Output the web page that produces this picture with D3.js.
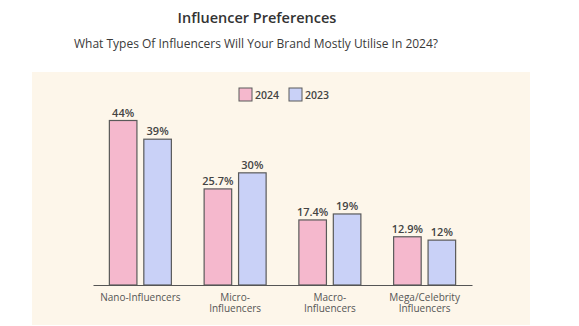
<!DOCTYPE html>
<html><head><meta charset="utf-8">
<script src="https://cdn.jsdelivr.net/npm/d3@7/dist/d3.min.js"></script>
<style>body{margin:0;background:#fff;}svg{display:block;}</style>
</head><body>
<script>
const categories = [["Nano-Influencers"], ["Micro-", "Influencers"], ["Macro-", "Influencers"], ["Mega/Celebrity", "Influencers"]];
const seriesNames = ["2024", "2023"];
const values2024 = [44, 25.7, 17.4, 12.9];
const values2023 = [39, 30, 19, 12];
const labels2024 = ["44%", "25.7%", "17.4%", "12.9%"];
const labels2023 = ["39%", "30%", "19%", "12%"];
const colors = ["#f5b8cd", "#c9d1f7"];

const W = 579, H = 326;
const font = "'Open Sans', 'Noto Sans', sans-serif";
const svg = d3.select("body").append("svg").attr("width", W).attr("height", H);

svg.append("rect").attr("x", 32).attr("y", 72).attr("width", 498).attr("height", 253).attr("fill", "#fdf6ea");

svg.append("text").attr("x", 257).attr("y", 23).attr("text-anchor", "middle")
  .attr("font-family", font).attr("font-size", 14.5).attr("font-weight", 600).attr("fill", "#333")
  .text("Influencer Preferences");
svg.append("text").attr("x", 256).attr("y", 48).attr("text-anchor", "middle")
  .attr("font-family", font).attr("font-size", 12).attr("fill", "#3a3a3a")
  .text("What Types Of Influencers Will Your Brand Mostly Utilise In 2024?");

const x0 = d3.scaleBand().domain(d3.range(categories.length)).range([93, 472]).padding(0);
const x1 = d3.scaleBand().domain(seriesNames).range([-31, 31]).paddingInner(0.2);
const y = d3.scaleLinear().domain([0, 44]).range([285, 120.5]);

const data = categories.map((c, i) => ({c, i, vals: [
  {s: "2024", v: values2024[i], l: labels2024[i], col: colors[0]},
  {s: "2023", v: values2023[i], l: labels2023[i], col: colors[1]}]}));

const g = svg.selectAll("g.grp").data(data).enter().append("g")
  .attr("transform", d => `translate(${x0(d.i) + x0.bandwidth() / 2},0)`);

g.selectAll("rect").data(d => d.vals).enter().append("rect")
  .attr("x", d => x1(d.s)).attr("width", x1.bandwidth())
  .attr("y", d => y(d.v)).attr("height", d => y(0) - y(d.v))
  .attr("fill", d => d.col).attr("stroke", "#5a5a5a").attr("stroke-width", 1.2);

g.selectAll("text.val").data(d => d.vals).enter().append("text")
  .attr("x", d => x1(d.s) + x1.bandwidth() / 2).attr("y", d => y(d.v) - 4)
  .attr("text-anchor", "middle").attr("font-family", font).attr("font-size", 11)
  .attr("font-weight", 600).attr("fill", "#444").text(d => d.l);

// axis
const axis = d3.axisBottom(x0).tickSize(0).tickFormat("");
const ax = svg.append("g").attr("transform", `translate(0,${y(0)})`).call(axis);
ax.select(".domain").attr("stroke", "#555").attr("stroke-width", 1.2);

g.each(function(d) {
  d.c.forEach((line, k) => {
    d3.select(this).append("text").attr("text-anchor", "middle")
      .attr("font-family", font).attr("font-size", 10).attr("fill", "#555")
      .attr("x", 0).attr("y", 301 + k * 11).text(line);
  });
});

// legend
const lx = [239, 289];
seriesNames.forEach((s, i) => {
  svg.append("rect").attr("x", lx[i]).attr("y", 88).attr("width", 13).attr("height", 13)
    .attr("fill", colors[i]).attr("stroke", "#5a5a5a").attr("stroke-width", 1);
  svg.append("text").attr("x", lx[i] + 16).attr("y", 99).attr("font-family", font)
    .attr("font-size", 10.5).attr("font-weight", 600).attr("fill", "#444").text(s);
});
</script>
</body></html>
